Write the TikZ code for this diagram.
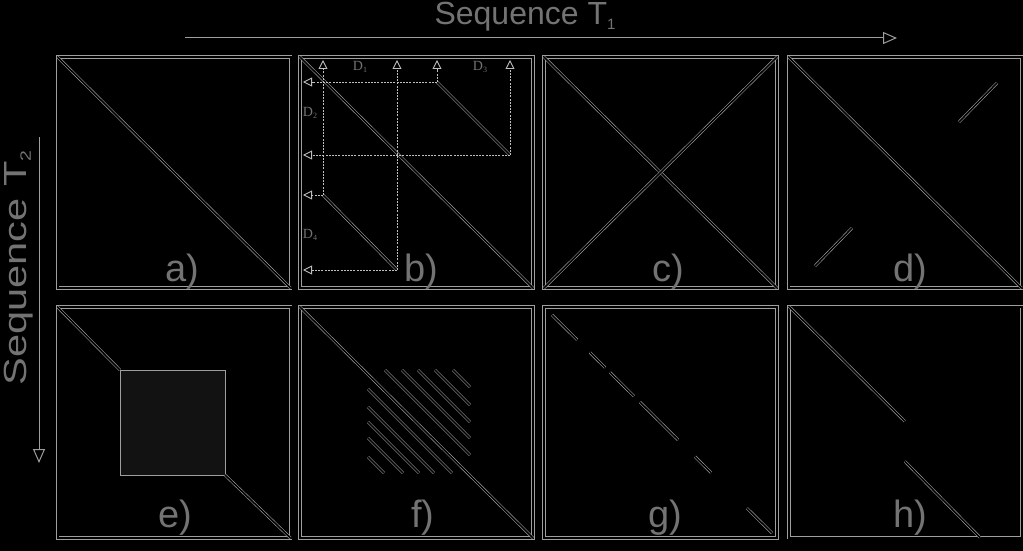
\documentclass[tikz,border=0pt]{standalone}
\usepackage{fontspec}
\setmainfont{Liberation Sans}
\newfontfamily\serifD{Liberation Serif}
\usetikzlibrary{arrows.meta,calc}
\definecolor{edge}{gray}{0.62}
\definecolor{dots}{gray}{0.75}
\definecolor{lbl}{gray}{0.45}
\definecolor{sqfill}{gray}{0.07}
\newcommand\subd[1]{\raisebox{-2.5pt}{\fontsize{8}{8}\selectfont #1}}
\begin{document}
\begin{tikzpicture}[x=1pt,y=-1pt,
  panel/.style={draw=edge, line width=0.8pt, double=black, double distance=2pt,
    minimum width=233pt, minimum height=231pt, inner sep=0pt, outer sep=0pt},
  trace/.style={draw=edge, line width=0.6pt, double=black, double distance=1.6pt},
  proj/.style={draw=dots, line width=0.9pt, dash pattern=on 2pt off 1.2pt,
    -{Triangle[open, fill=black, length=9pt, width=9pt]}},
  axis/.style={draw=edge, line width=1pt, -{Triangle[open, fill=black, length=14pt, width=12pt]}},
  lab/.style={text=lbl, font=\fontsize{38}{38}\selectfont, inner sep=0pt, anchor=base},
  dlab/.style={text=lbl, font=\serifD\fontsize{14}{14}\selectfont, inner sep=0pt},
  title/.style={text=lbl, font=\fontsize{32}{32}\selectfont, inner sep=0pt, anchor=base},
  sq/.style={draw=edge, line width=0.8pt, fill=sqfill, minimum size=105pt, inner sep=0pt, outer sep=0pt}
]
\fill[black] (0,0) rectangle (1023,551);
\useasboundingbox (0,0) rectangle (1023,551);

% axes
\coordinate (t1s) at (185,38);
\coordinate (t1e) at (897,38);
\draw[axis] (t1s) -- (t1e);
\node[title] (t1) at (525,25) {Sequence T\raisebox{-5pt}{\fontsize{15}{15}\selectfont 1}};
\coordinate (t2s) at (39,137);
\coordinate (t2e) at (39,463);
\draw[axis] (t2s) -- (t2e);
\node[title, rotate=90, xscale=1.3] (t2) at (26,268) {Sequence T\raisebox{-5pt}{\fontsize{15}{15}\selectfont 2}};

% panels
\node[panel] (pa) at (174,172.5) {};
\node[panel] (pb) at (416.5,172.5) {};
\node[panel] (pc) at (660.5,172.5) {};
\node[panel] (pd) at (905,172.5) {};
\node[panel] (pe) at (174,422.5) {};
\node[panel] (pf) at (416.5,422.5) {};
\node[panel] (pg) at (660.5,422.5) {};
\node[panel] (ph) at (905.5,422) {};

% a)
\draw[trace] (pa.north west) -- (pa.south east);

% b)
\draw[trace] (pb.north west) -- (pb.south east);
\coordinate (u1) at (437,82);
\coordinate (u2) at (510,155);
\coordinate (l1) at (323,195);
\coordinate (l2) at (397,270);
\coordinate (btop) at (0,60);
\coordinate (bleft) at (303,0);
\draw[trace] (u1) -- (u2);
\draw[trace] (l1) -- (l2);
\foreach \p in {u1,u2,l1,l2}{
  \draw[proj] (\p) -- (\p |- btop);
  \draw[proj] (\p) -- (\p -| bleft);
}
\node[dlab] (d1) at (360,67) {D\subd{1}};
\node[dlab] (d3) at (480,67) {D\subd{3}};
\node[dlab] (d2) at (310,113) {D\subd{2}};
\node[dlab] (d4) at (310,235) {D\subd{4}};

% c)
\draw[trace] (pc.north west) -- (pc.south east);
\draw[trace] (pc.south west) -- (pc.north east);

% d)
\draw[trace] (pd.north west) -- (pd.south east);
\draw[trace] (959,122) -- (997,83);
\draw[trace] (815,266) -- (852,228);

% e)
\node[sq] (esq) at (172.5,422.5) {};
\draw[trace] (pe.north west) -- (esq.north west);
\draw[trace] (esq.south east) -- (pe.south east);

% f)
\draw[trace] (pf.north west) -- (pf.south east);
\foreach \a in {385,402,418,435,453}
  \draw[trace] (\a,370) -- (470,{840-\a});
\foreach \b in {389,407,422,438,457}
  \draw[trace] (368,\b) -- ({841-\b},473);

% g)
\foreach \s/\e in {0.034/0.142, 0.197/0.262, 0.283/0.386, 0.412/0.575, 0.648/0.717, 0.871/0.979}
  \draw[trace] ($(pg.north west)!\s!(pg.south east)$) -- ($(pg.north west)!\e!(pg.south east)$);

% h)
\draw[trace] (ph.north west) -- ($(ph.north west)!0.497!(ph.south east)$);
\draw[trace] ($(ph.north west)!0.497!(ph.south east)+(0,40)$) -- ($(ph.south east)+(-42,0)$);

% labels
\node[lab] (la) at (182,281) {a)};
\node[lab] (lb) at (421,281) {b)};
\node[lab] (lc) at (668,281) {c)};
\node[lab] (ld) at (910,281) {d)};
\node[lab] (le) at (175,527) {e)};
\node[lab] (lf) at (423,527) {f)};
\node[lab] (lg) at (665,527) {g)};
\node[lab] (lh) at (910,527) {h)};
\end{tikzpicture}
\end{document}
